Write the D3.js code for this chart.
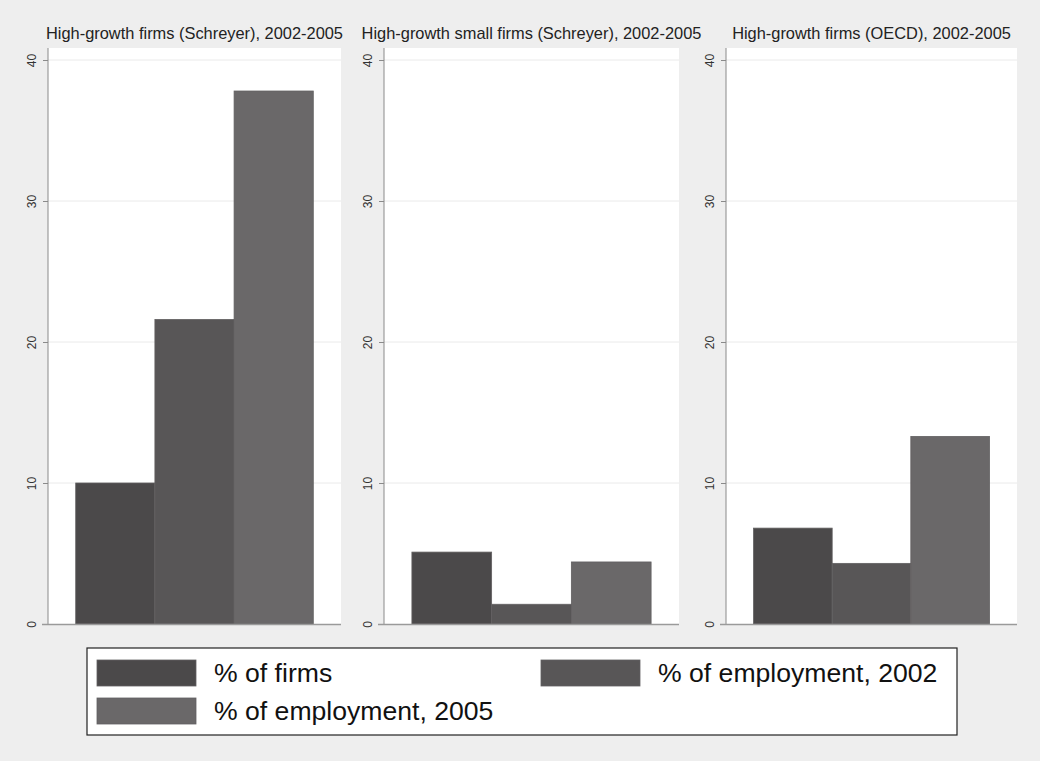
<!DOCTYPE html>
<html><head><meta charset="utf-8">
<script src="https://cdn.jsdelivr.net/npm/d3@7"></script>
<style>body{margin:0;background:#eeeeee;} svg{display:block;font-family:"Liberation Sans",Arial,sans-serif;}</style>
</head><body>
<script>
const panelTitles = ["High-growth firms (Schreyer), 2002-2005","High-growth small firms (Schreyer), 2002-2005","High-growth firms (OECD), 2002-2005"];
const seriesNames = ["% of firms","% of employment, 2002","% of employment, 2005"];
const pctFirms = [10.0, 5.1, 6.8];
const pctEmp2002 = [21.6, 1.4, 4.3];
const pctEmp2005 = [37.8, 4.4, 13.3];
const yTicks = [0,10,20,30,40];
const colors = ["#4b494a","#585657","#6a6869"];

const W=1040,H=761;
const svg=d3.select("body").append("svg").attr("width",W).attr("height",H);
svg.append("rect").attr("width",W).attr("height",H).attr("fill","#eeeeee");

const panelLeft=[48,384,726], panelW=[293,295,291];
const plotTop=48, plotBottom=624;
const y=d3.scaleLinear().domain([0,40]).range([plotBottom,60]);

panelTitles.forEach((t,i)=>{
  const L=panelLeft[i], Wp=panelW[i];
  const g=svg.append("g");
  g.append("rect").attr("x",L).attr("y",plotTop).attr("width",Wp).attr("height",plotBottom-plotTop).attr("fill","#ffffff");
  g.selectAll("line.grid").data(yTicks.filter(d=>d>0)).join("line")
    .attr("x1",L).attr("x2",L+Wp).attr("y1",d=>y(d)).attr("y2",d=>y(d))
    .attr("stroke","#eaeaea").attr("stroke-width",1);
  const x=d3.scaleBand().domain(seriesNames).range([L,L+Wp]).paddingInner(0).paddingOuter(0.35);
  const vals=[pctFirms[i],pctEmp2002[i],pctEmp2005[i]];
  g.selectAll("rect.bar").data(seriesNames).join("rect")
    .attr("x",d=>x(d)).attr("width",x.bandwidth())
    .attr("y",(d,j)=>y(vals[j])).attr("height",(d,j)=>y(0)-y(vals[j]))
    .attr("fill",(d,j)=>colors[j]).attr("stroke","#626061").attr("stroke-width",0.8);
  const ax=d3.axisLeft(y).tickValues(yTicks).tickSize(5).tickPadding(6);
  const ag=g.append("g").attr("transform",`translate(${L},0)`).call(ax);
  ag.select(".domain").attr("d",`M0,${plotTop}V${plotBottom}`).attr("stroke","#8a8a8a");
  ag.selectAll(".tick line").attr("stroke","#8a8a8a");
  ag.selectAll(".tick text").attr("font-size",12).attr("fill","#333")
    .attr("transform","rotate(-90)").attr("x",0).attr("y",-12).attr("dy","0").attr("text-anchor","middle")
    .attr("font-family","Liberation Sans, Arial, sans-serif");
  g.append("line").attr("x1",L-6).attr("x2",L+Wp).attr("y1",plotBottom+0.5).attr("y2",plotBottom+0.5).attr("stroke","#9a9a9a").attr("stroke-width",1.5);
  g.append("text").attr("x",L+Wp/2).attr("y",39).attr("text-anchor","middle").attr("font-size",16.4).attr("fill","#222").text(t);
});

const lg=svg.append("g");
lg.append("rect").attr("x",87).attr("y",648).attr("width",870).attr("height",87).attr("fill","#fff").attr("stroke","#222").attr("stroke-width",1.2);
const legPos=[[97,660],[541,660],[97,698]];
seriesNames.forEach((s,j)=>{
  const [lx,ly]=legPos[j];
  lg.append("rect").attr("x",lx).attr("y",ly).attr("width",99).attr("height",26).attr("fill",colors[j]).attr("stroke","#626061").attr("stroke-width",0.8);
  lg.append("text").attr("x",lx+117).attr("y",ly+22).attr("font-size",26.6).attr("fill","#111").text(s);
});
</script>
</body></html>
